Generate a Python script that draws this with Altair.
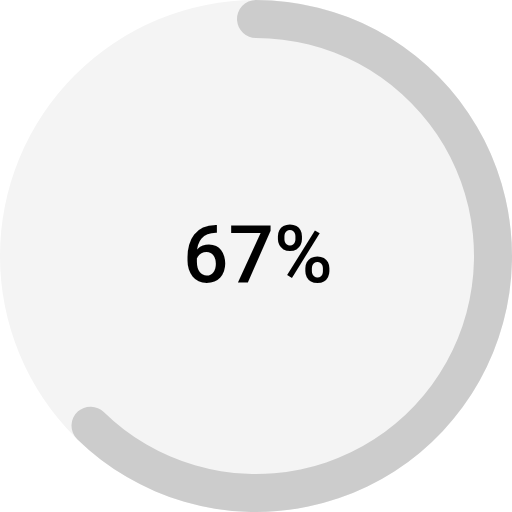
import math
import altair as alt
import pandas as pd

# data
value_pct = [67]
start_pct = [0]
labels = ["67%"]

df = pd.DataFrame({"start": start_pct, "pct": value_pct, "label": labels})

# angular geometry (radians) for the progress scale
cap_angle = 19 / 237.0
r0 = -cap_angle
r_end = math.radians(224.3) + cap_angle
r100 = r0 + (r_end - r0) / 0.67

base = alt.Chart(df)

bg = base.mark_arc(color="#f4f4f4", radius=256, radius2=0).encode(
    theta=alt.value(0),
    theta2=alt.value(2 * math.pi),
)

progress = base.mark_arc(color="#cccccc", radius=256, radius2=218, cornerRadius=19).encode(
    theta=alt.Theta("start:Q", scale=alt.Scale(domain=[0, 100], range=[r0, r100]), stack=False),
    theta2="pct:Q",
)

text = base.mark_text(
    font="Roboto", fontSize=80, fontWeight=500, color="#000000",
    align="center", baseline="alphabetic",
).encode(
    text="label:N",
    x=alt.value(258),
    y=alt.value(282),
)

chart = alt.layer(bg, progress, text).properties(
    width=512, height=512, padding=0,
    autosize=alt.AutoSizeParams(type="none"),
).configure_view(stroke=None)

chart.save("out.html", embed_options={"renderer": "svg", "actions": False})
